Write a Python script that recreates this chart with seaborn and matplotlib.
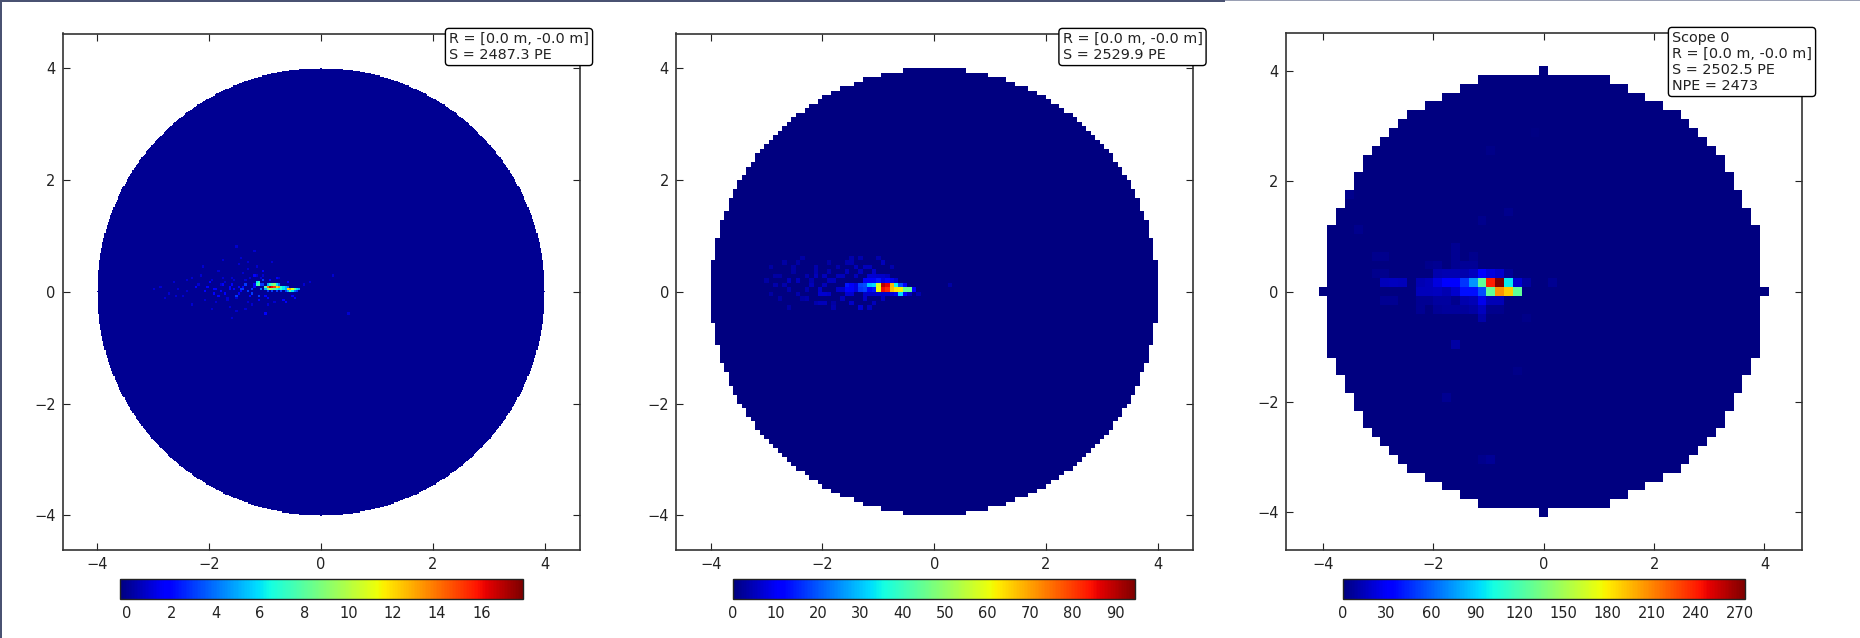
import numpy as np
import pandas as pd
import seaborn as sns
import matplotlib
matplotlib.use("Agg")
import matplotlib.pyplot as plt
from matplotlib.patches import Rectangle

W, H = 1860, 638
RADIUS = 4.0

labels_1 = "R = [0.0 m, -0.0 m]\nS = 2487.3 PE"
labels_2 = "R = [0.0 m, -0.0 m]\nS = 2529.9 PE"
labels_3 = "Scope 0\nR = [0.0 m, -0.0 m]\nS = 2502.5 PE\nNPE = 2473"

axis_ticks = [-4, -2, 0, 2, 4]
cbar_ticks_1 = [0, 2, 4, 6, 8, 10, 12, 14, 16]
cbar_ticks_2 = [0, 10, 20, 30, 40, 50, 60, 70, 80, 90]
cbar_ticks_3 = [0, 30, 60, 90, 120, 150, 180, 210, 240, 270]

# hot cells: column, row (0 = cell touching the origin), PE
cols_1 = [-25, -24, -23, -22, -21, -20, -19, -18, -17, -16, -15,
          -24, -23, -22, -21, -20, -19,
          -25, -24, -23, -22, -21, -20, -19, -18, -17, -16, -15, -14, -13, -12, -11, -10,
          -24, -22, -20, -18, -16, -15, -14, -13, -12, -11,
          -29, -28, -29, -28, -27, -26, -30, -31, -26, -27]
rows_1 = [2, 2, 2, 2, 2, 2, 2, 2, 2, 2, 2,
          3, 3, 3, 3, 3, 3,
          1, 1, 1, 1, 1, 1, 1, 1, 1, 1, 1, 1, 1, 1, 1, 1,
          0, 0, 0, 0, 0, 0, 0, 0, 0, 0,
          4, 4, 3, 3, 3, 3, 2, 1, 5, 1]
values_1 = [8, 14, 17, 16, 15, 12, 13, 7, 6, 5, 4,
            5, 7, 8, 9, 6, 4,
            5, 8, 10, 9, 8, 7, 6, 7, 6, 5, 12, 13, 11, 8, 6, 5,
            3, 3, 3, 3, 3, 5, 8, 6, 4, 3,
            6, 7, 7, 8, 3, 3, 2, 3, 3, 4]
# faint scatter around the streak, one or two PE each
faint_cols_1 = [-33, -35, -37, -34, -36, -39, -41, -43, -45, -32, -38, -44, -48, -52, -56, -60, -64, -68, -30,
                -35, -40, -42, -47, -50, -33, -37, -41, -46, -28, -31, -34, -38, -24, -26, -29, -33, -36, -40,
                -20, -25, -44, -49, -53, -58, -30, -38, -16, -12, -22, 5, 12, -72, -75, -70, -66, -62, -58, -54,
                -51, -49, -46, -43, -40, -37, -34, -31, -29, -27, -25, -23, -21, -19, -17, -15, -13, -47, -44,
                -42, -39, -36, -33, -30, -28, -26, -24, -32, -35, -38, -41, -45, -48, -52, -55, -60, -65, -8, -5]
faint_rows_1 = [0, 1, 2, 3, 0, 1, 2, -1, 0, -2, -3, 3, 1, 0, 2, 5, 1, -1, 7,
                8, 6, -4, -5, 4, 10, 12, -7, 9, -4, -6, -8, -9, -3, 9, 11, 13, 15, -12,
                6, -10, 14, -8, 11, 6, 18, 20, -5, -3, 13, 7, -10, 2, 1, -3, 4, -2, -6, 7,
                2, 5, -2, 4, 3, -1, 5, -1, 7, 6, -2, 5, -5, 6, -4, 4, -2, 1, 6,
                -3, 5, 1, -5, 3, -2, 7, -6, 6, 2, -2, 1, 3, -1, -4, 3, 0, -2, 3, 4]
faint_values_1 = [3, 3, 2, 3, 2, 2, 2, 2, 2, 2, 1, 2, 2, 2, 2, 1, 1, 1, 2,
                  1, 1, 1, 1, 2, 1, 1, 1, 1, 2, 1, 1, 1, 2, 2, 1, 1, 1, 1,
                  2, 2, 1, 1, 1, 1, 1, 1, 2, 2, 1, 1, 1, 1, 1, 1, 1, 1, 1, 1,
                  2, 1, 2, 1, 2, 2, 1, 3, 1, 1, 2, 2, 1, 1, 2, 2, 2, 2, 1,
                  1, 1, 3, 1, 2, 3, 1, 1, 1, 2, 3, 2, 1, 2, 1, 1, 1, 1, 1, 1]

cols_2 = [-20, -19, -18, -17, -16, -15, -14, -13, -12, -11, -10, -9, -8, -7,
          -20, -19, -18, -17, -16, -15, -14, -13, -12, -11, -10, -9, -8, -7, -6, -5,
          -16, -15, -14, -13, -12, -11, -10, -9,
          -15, -14, -13, -12, -11,
          -26, -25, -24, -20, -19, -16, -15, -14, -13, -12, -11, -10, -9, -8, -7, -6]
rows_2 = [1, 1, 1, 1, 1, 1, 1, 1, 1, 1, 1, 1, 1, 1,
          0, 0, 0, 0, 0, 0, 0, 0, 0, 0, 0, 0, 0, 0, 0, 0,
          2, 2, 2, 2, 2, 2, 2, 2,
          3, 3, 3, 3, 3,
          -1, -1, -1, -1, -1, -1, -1, -1, -1, -1, -1, -1, -1, -1, -1, -1]
values_2 = [14, 10, 8, 18, 19, 30, 32, 58, 90, 86, 68, 35, 19, 12,
            12, 10, 8, 17, 18, 12, 14, 60, 85, 82, 67, 63, 62, 45, 45, 12,
            10, 10, 10, 14, 8, 12, 9, 6,
            7, 7, 6, 6, 5,
            7, 7, 6, 7, 7, 6, 6, 6, 6, 6, 6, 7, 9, 32, 12, 5]
faint_cols_2 = [-38, -37, -36, -35, -34, -33, -32, -31, -30, -29, -28, -27, -26, -25, -24, -23, -22, -21,
                -37, -35, -33, -31, -29, -27, -25, -23, -21, -19, -17, -36, -34, -32, -30, -28, -26, -24, -22,
                -20, -18, -16, -14, -12, -10, -33, -31, -29, -27, -25, -23, -21, -19, -17, -15, -13,
                -24, -22, -20, -18, -16, -14, -12, -27, -25, -19, -17, -15, -4, 3]
faint_rows_2 = [2, 5, 1, 3, 6, 0, 4, 2, 7, 3, 1, 5, 0, 3, 6, 2, 5, 0,
                -1, -2, 2, 6, 0, 4, 1, -3, 3, 7, 4, 3, 1, 5, -2, 2, -3, 4, 0,
                6, 3, 5, 4, 6, 5, -4, -1, -2, 3, -3, -4, -2, 6, 7, 5, 7,
                2, 3, 4, 5, -2, -3, -2, -3, 1, -3, -4, -4, -1, 1]
faint_values_2 = [3, 3, 4, 3, 3, 4, 3, 5, 3, 4, 5, 4, 6, 5, 3, 5, 4, 6,
                  3, 3, 5, 3, 4, 4, 6, 3, 5, 4, 5, 3, 4, 3, 3, 4, 5, 4, 6,
                  4, 5, 5, 6, 5, 4, 3, 4, 4, 5, 5, 4, 5, 4, 4, 5, 4,
                  5, 5, 5, 5, 6, 5, 5, 4, 5, 6, 7, 5, 4, 3]

cols_3 = [-18, -17, -16, -14, -13, -12, -11, -10, -9, -8, -7, -6, -5, -4, -3, -2,
          -14, -13, -12, -11, -10, -9, -8, -7, -6, -5, -4, -3,
          -12, -11, -10, -9, -8, -7, -6, -5, -4,
          -12, -11, -10, -9, -8, -7, -6, -5, -13, -14,
          -18, -17, -12, -11, -10, -9, -8, -7, -6, -5, -14,
          -7, -9, -8, -10, -12, -13,
          -22, -21, -19, -18, -19, -18, -10, -10, -10, -8, -4, -7,
          -10, -11, -6, -7, 1, -2, -6, -1, -3]
rows_3 = [1, 1, 1, 1, 1, 1, 1, 1, 1, 1, 1, 1, 1, 1, 1, 1,
          0, 0, 0, 0, 0, 0, 0, 0, 0, 0, 0, 0,
          2, 2, 2, 2, 2, 2, 2, 2, 2,
          -1, -1, -1, -1, -1, -1, -1, -1, -1, -1,
          -1, -1, -2, -2, -2, -2, -2, -2, -2, -2, -2,
          -3, 3, 3, 3, 3, 3,
          11, 7, 2, 2, 4, 4, 4, 5, 3, 4, 9, 8,
          -6, -12, -19, -19, 1, -3, 16, 18, -9]
values_3 = [14, 15, 14, 12, 14, 23, 30, 34, 49, 74, 128, 240, 273, 98, 20, 8,
            14, 14, 15, 12, 19, 38, 38, 55, 128, 205, 190, 128,
            11, 12, 12, 11, 15, 30, 23, 19, 6,
            8, 8, 4, 11, 13, 26, 13, 13, 5, 5,
            5, 5, 6, 7, 7, 7, 9, 15, 4, 4, 5,
            10, 6, 6, 7, 5, 4,
            4, 4, 4, 4, 4, 4, 5, 5, 5, 4, 4, 4,
            9, 5, 6, 4, 5, 3, 3, 2, 3]


def build_grid(cols, rows, values, nbins, cell, x0, shift, scale=1):
    centers = x0 + (np.arange(nbins) + 0.5) * cell
    xc, yc = np.meshgrid(centers, centers)
    outside = xc ** 2 + yc ** 2 > RADIUS ** 2 + 1e-9
    grid = np.zeros((nbins, nbins))
    # the finest panel shows its counts in blocks of scale x scale cells
    for c, r, v in zip(cols, rows, values):
        grid[r * scale + shift:(r + 1) * scale + shift, c * scale + shift:(c + 1) * scale + shift] = v
    return pd.DataFrame(grid), outside


def px_axes(left, top, right, bottom):
    return [left / W, 1 - bottom / H, (right - left) / W, (bottom - top) / H]


def draw_panel(frame, outside, cell, x0, lim, vmin, vmax, ticks, box, spot, text):
    ax = fig.add_axes(px_axes(*box))
    cax = fig.add_axes(px_axes(*spot))
    sns.heatmap(frame, mask=outside, cmap="jet", vmin=vmin, vmax=vmax, ax=ax, cbar_ax=cax,
                cbar_kws={"orientation": "horizontal", "ticks": ticks},
                xticklabels=False, yticklabels=False)
    # heatmap works in cell numbers, so the metre axis goes through them
    to_cell = lambda v: (np.asarray(v, dtype=float) - x0) / cell
    ax.set_xlim(to_cell(-lim), to_cell(lim))
    ax.set_ylim(to_cell(-lim), to_cell(lim))
    ax.set_xticks(to_cell(axis_ticks))
    ax.set_yticks(to_cell(axis_ticks))
    names = [str(t).replace("-", "\u2212") for t in axis_ticks]
    ax.set_xticklabels(names)
    ax.set_yticklabels(names, rotation=0)
    ax.tick_params(direction="in", top=True, right=True, bottom=True, left=True,
                   length=5, width=0.8, labelsize=10.5, pad=5, color="#222222", labelcolor="#222222")
    for s in ax.spines.values():
        s.set_visible(True)
        s.set_linewidth(1.2)
        s.set_color("#333333")
    cb = ax.collections[0].colorbar
    cb.outline.set_visible(True)
    cb.outline.set_linewidth(1.0)
    cb.outline.set_edgecolor("#222222")
    cax.tick_params(direction="in", top=True, bottom=True, length=5, width=0.7,
                    labelsize=10.5, pad=5, color="#222222", labelcolor="#222222")
    fig.text(text[0] / W, 1 - text[1] / H, text[2], fontsize=10.35, color="#222222", va="top", ha="left",
             linespacing=1.18, zorder=10,
             bbox=dict(boxstyle="round,pad=0.25", fc="white", ec="black", lw=1.0))


sns.set_theme(style="white")
plt.rcParams["font.family"] = ["DejaVu Sans"]
fig = plt.figure(figsize=(W / 100, H / 100), dpi=100, facecolor="white")

frame, outside = build_grid(faint_cols_1 + cols_1, faint_rows_1 + rows_1, faint_values_1 + values_1,
                            401, 0.02, -4.01, 200, scale=2)
draw_panel(frame, outside, 0.02, -4.01, 4.62, -0.33, 17.85, cbar_ticks_1,
           (62.5, 33.5, 579.5, 550), (119.5, 578.5, 522.5, 599), (449, 32, labels_1))

frame, outside = build_grid(faint_cols_2 + cols_2, faint_rows_2 + rows_2, faint_values_2 + values_2,
                            100, 0.08, -4.0, 50)
draw_panel(frame, outside, 0.08, -4.0, 4.62, 0, 94.7, cbar_ticks_2,
           (676, 33.5, 1192.5, 550), (733, 578.5, 1135, 599), (1062.5, 32, labels_2))

frame, outside = build_grid(cols_3, rows_3, values_3, 51, 0.16, -4.08, 25)
draw_panel(frame, outside, 0.16, -4.08, 4.68, 0, 273.3, cbar_ticks_3,
           (1285.5, 33, 1802, 550), (1342.5, 578.5, 1745, 599), (1672, 31, labels_3))

# window edge left over from the screenshot
fig.add_artist(Rectangle((0, 1 - 2 / H), 1225 / W, 2 / H, transform=fig.transFigure, fc="#4a5272", ec="none"))
fig.add_artist(Rectangle((1225 / W, 1 - 1 / H), 1 - 1225 / W, 1 / H, transform=fig.transFigure, fc="#9aa0b4", ec="none"))
fig.add_artist(Rectangle((0, 0), 2 / W, 1, transform=fig.transFigure, fc="#4a5272", ec="none"))

fig.savefig("out.png", dpi=100)
